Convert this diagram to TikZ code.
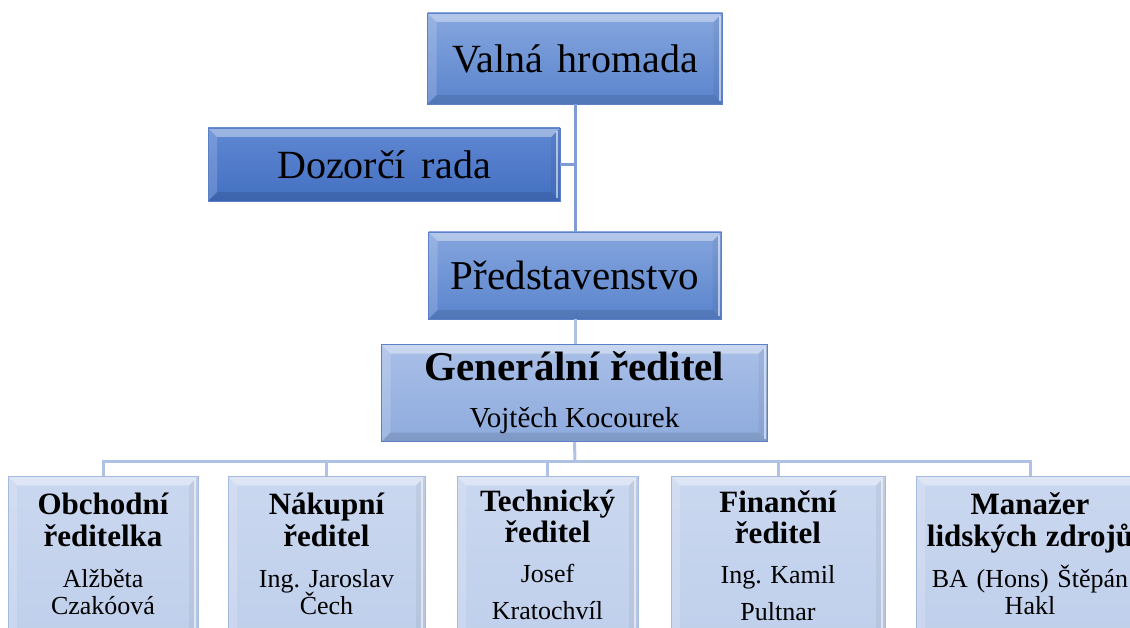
\documentclass[tikz,border=0pt]{standalone}
\usepackage{fontspec}
\setmainfont{Liberation Serif}
\frenchspacing
\definecolor{vtop}{HTML}{86A6DE}
\definecolor{vbot}{HTML}{5A84CD}
\definecolor{dtop}{HTML}{5F88D2}
\definecolor{dbot}{HTML}{4470C2}
\definecolor{gtop}{HTML}{A9BFE7}
\definecolor{gbot}{HTML}{8EABDD}
\definecolor{ctop}{HTML}{CAD7EF}
\definecolor{cbot}{HTML}{BFCFEB}
\definecolor{bordA}{HTML}{5B80C8}
\definecolor{bordC}{HTML}{A6BAE0}
\definecolor{lineA}{HTML}{7F9CD5}
\definecolor{lineC}{HTML}{AFC1E4}
\newcommand{\ttl}[1]{{\bfseries\fontsize{31}{32}\selectfont #1}}
\tikzset{
  x=1pt, y=-1pt,
  bevel/.style={path picture={
    \fill[white,opacity=.38] (path picture bounding box.north west) -- (path picture bounding box.north east)
      -- ([xshift=-#1,yshift=-#1]path picture bounding box.north east) -- ([xshift=#1,yshift=-#1]path picture bounding box.north west) -- cycle;
    \fill[white,opacity=.16] (path picture bounding box.north west) -- (path picture bounding box.south west)
      -- ([xshift=#1,yshift=#1]path picture bounding box.south west) -- ([xshift=#1,yshift=-#1]path picture bounding box.north west) -- cycle;
    \fill[black,opacity=.10] (path picture bounding box.south west) -- (path picture bounding box.south east)
      -- ([xshift=-#1,yshift=#1]path picture bounding box.south east) -- ([xshift=#1,yshift=#1]path picture bounding box.south west) -- cycle;
    \fill[black,opacity=.05] (path picture bounding box.north east) -- (path picture bounding box.south east)
      -- ([xshift=-#1,yshift=#1]path picture bounding box.south east) -- ([xshift=-#1,yshift=-#1]path picture bounding box.north east) -- cycle;
    \fill[white,opacity=.55] ([xshift=-4pt,yshift=-3pt]path picture bounding box.north east) rectangle ([xshift=-2pt,yshift=3pt]path picture bounding box.south east);
  }},
  upbox/.style={shape=rectangle, inner sep=0pt, draw=bordA, line width=0.8pt,
    top color=vtop, bottom color=vbot, bevel=9pt, font=\fontsize{40}{48}\selectfont},
  darkbox/.style={upbox, top color=dtop, bottom color=dbot},
  genbox/.style={upbox, top color=gtop, bottom color=gbot, align=center,
    font=\fontsize{29}{47}\selectfont},
  childbox/.style={shape=rectangle, anchor=north, inner xsep=4pt, inner ysep=14pt,
    draw=bordC, line width=0.8pt, top color=ctop, bottom color=cbot, bevel=9pt,
    align=center, font=\fontsize{26}{32}\selectfont},
  connA/.style={draw=lineA, line width=3pt},
  connC/.style={draw=lineC, line width=3pt},
}
\begin{document}
\begin{tikzpicture}
\useasboundingbox (0,0) rectangle (1130,628);
\clip (0,0) rectangle (1130,628);

\node[upbox, minimum width=295pt, minimum height=91pt] (vh) at (575,58.5) {Valná\hspace{0.12em} hromada};
\node[darkbox, minimum width=352pt, minimum height=73pt] (dr) at (384,164.5) {Dozorčí\hspace{0.15em} rada};
\node[upbox, minimum width=293pt, minimum height=87pt, font=\fontsize{41}{48}\selectfont] (pr) at (575,275.5) {Představenstvo};
\node[genbox, minimum width=386pt, minimum height=97pt] (gr) at (574.5,393) {{\bfseries\fontsize{41}{47}\selectfont Generální ředitel}\\ Vojtěch Kocourek\rule[-5pt]{0pt}{5pt}};

\draw[connA] (vh.south) -- (pr.north);
\draw[connA] (dr.east) -- (dr.east -| vh.south);
\draw[connC] (pr.south) -- (pr.south |- gr.north);

\node[childbox, text width=182pt] (c1) at (103,476) {\rule{0pt}{24pt}\ttl{Obchodní}\\ \ttl{ředitelka}\\[9pt] Alžběta\\[-5pt] Czakóová\rule[-14pt]{0pt}{14pt}};
\node[childbox, text width=189pt] (c2) at (326.5,476) {\rule{0pt}{24pt}\ttl{Nákupní}\\ \ttl{ředitel}\\[9pt] Ing. Jaroslav\\[-5pt] Čech\rule[-14pt]{0pt}{14pt}};
\node[childbox, text width=173pt] (c3) at (547.5,476) {\rule{0pt}{21pt}\ttl{Technický}\\[-1pt] \ttl{ředitel}\\[8pt] Josef\\[5pt] Kratochvíl\rule[-14pt]{0pt}{14pt}};
\node[childbox, text width=206pt] (c4) at (778,476) {\rule{0pt}{21pt}\ttl{Finanční}\\[-1pt] \ttl{ředitel}\\[8pt] Ing. Kamil\\[5pt] Pultnar\rule[-14pt]{0pt}{14pt}};
\node[childbox, text width=220pt] (c5) at (1030,476) {\rule{0pt}{24pt}\ttl{Manažer}\\ \ttl{lidských zdrojů}\\[9pt] BA (Hons) Štěpán\\[-5pt] Hakl\rule[-14pt]{0pt}{14pt}};

\coordinate (bus) at (575,461);
\draw[connC] (gr.south) -- (bus);
\draw[connC] (c1.north) -- (c1.north |- bus) -- (c5.north |- bus) -- (c5.north);
\draw[connC] (c2.north) -- (c2.north |- bus);
\draw[connC] (c3.north) -- (c3.north |- bus);
\draw[connC] (c4.north) -- (c4.north |- bus);
\end{tikzpicture}
\end{document}
